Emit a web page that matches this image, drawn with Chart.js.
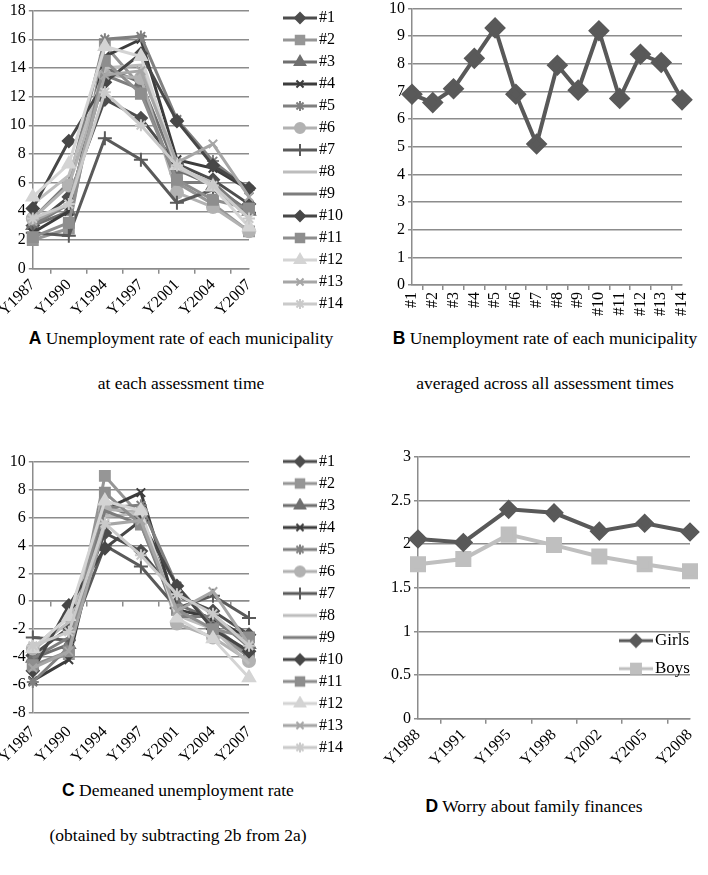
<!DOCTYPE html>
<html>
<head>
<meta charset="utf-8">
<script src="https://cdn.jsdelivr.net/npm/chart.js@4.4.0/dist/chart.umd.min.js"></script>
<style>
body{margin:0;background:#fff;width:708px;height:875px;position:relative;overflow:hidden;font-family:"Liberation Serif","Times New Roman",serif;}
.box{position:absolute;}
.cap{position:absolute;font-size:17.5px;text-align:center;white-space:nowrap;color:#000;}
.cap b{font-family:"Liberation Sans",Arial,sans-serif;}
</style>
</head>
<body>
<div class="box" style="left:0;top:-2px;width:353px;height:324px"><canvas id="chartA"></canvas></div>
<div class="box" style="left:360px;top:-4px;width:348px;height:323px"><canvas id="chartB"></canvas></div>
<div class="box" style="left:0;top:440px;width:353px;height:329px"><canvas id="chartC"></canvas></div>
<div class="box" style="left:360px;top:440px;width:348px;height:332px"><canvas id="chartD"></canvas></div>

<div class="cap" style="left:0;width:362px;top:328px"><b>A</b> Unemployment rate of each municipality</div>
<div class="cap" style="left:0;width:362px;top:373px">at each assessment time</div>
<div class="cap" style="left:382px;width:326px;top:328px"><b>B</b> Unemployment rate of each municipality</div>
<div class="cap" style="left:382px;width:326px;top:373px">averaged across all assessment times</div>
<div class="cap" style="left:0;width:356px;top:780px"><b>C</b> Demeaned unemployment rate</div>
<div class="cap" style="left:0;width:356px;top:825px">(obtained by subtracting 2b from 2a)</div>
<div class="cap" style="left:360px;width:348px;top:796px"><b>D</b> Worry about family finances</div>

<script>
// assessment times and municipalities
const years = ['Y1987', 'Y1990', 'Y1994', 'Y1997', 'Y2001', 'Y2004', 'Y2007'];
const municipalities = ['#1','#2','#3','#4','#5','#6','#7','#8','#9','#10','#11','#12','#13','#14'];

// 2a: unemployment rate per municipality
const m1  = [3.0, 5.0, 11.8, 10.5, 7.3, 6.2, 4.5];
const m2  = [2.0, 2.8, 15.6, 12.7, 6.0, 4.5, 2.6];
const m3  = [3.0, 4.0, 14.0, 13.0, 6.9, 5.8, 4.0];
const m4  = [2.5, 4.0, 14.8, 16.0, 7.6, 7.0, 5.5];
const m5  = [3.5, 6.0, 16.0, 16.2, 10.4, 7.5, 5.5];
const m6  = [3.5, 5.8, 13.5, 13.3, 5.3, 4.3, 2.6];
const m7  = [2.5, 2.3, 9.1, 7.6, 4.6, 5.5, 3.9];
const m8  = [4.5, 6.5, 14.0, 14.2, 7.0, 6.0, 3.5];
const m9  = [3.0, 4.5, 13.5, 12.5, 6.0, 6.0, 3.8];
const m10 = [4.2, 8.9, 13.0, 15.0, 10.3, 7.2, 5.6];
const m11 = [2.2, 3.2, 14.5, 12.2, 6.2, 4.8, 4.2];
const m12 = [5.0, 7.3, 15.5, 14.8, 7.2, 5.7, 2.9];
const m13 = [3.3, 4.5, 13.5, 13.8, 7.4, 8.7, 5.0];
const m14 = [3.5, 4.5, 12.3, 10.0, 7.2, 5.8, 3.5];

// 2b: average over all assessment times
const meanRate = [6.9, 6.6, 7.1, 8.2, 9.3, 6.9, 5.1, 7.95, 7.05, 9.2, 6.75, 8.35, 8.05, 6.7];

// 2c: demeaned rate
const d1  = [-3.9, -1.9, 4.9, 3.6, 0.4, -0.7, -2.4];
const d2  = [-4.6, -3.8, 9.0, 6.1, -0.6, -2.1, -4.0];
const d3  = [-4.1, -3.1, 6.9, 5.9, -0.2, -1.3, -3.1];
const d4  = [-5.7, -4.2, 6.6, 7.8, -0.6, -1.2, -2.7];
const d5  = [-5.8, -3.3, 6.7, 6.9, 1.1, -1.8, -3.8];
const d6  = [-3.4, -1.1, 6.6, 6.4, -1.6, -2.6, -4.3];
const d7  = [-2.6, -2.8, 4.0, 2.5, -0.5, 0.4, -1.2];
const d8  = [-3.5, -1.5, 6.1, 6.3, -1.0, -2.0, -4.5];
const d9  = [-4.1, -2.6, 6.5, 5.5, -1.1, -1.1, -3.3];
const d10 = [-5.0, -0.3, 3.8, 5.8, 1.1, -2.0, -3.6];
const d11 = [-4.6, -3.6, 7.8, 5.5, -0.6, -2.0, -2.6];
const d12 = [-3.4, -1.1, 7.2, 6.5, -1.2, -2.7, -5.5];
const d13 = [-4.8, -3.6, 5.5, 5.8, -0.7, 0.7, -3.1];
const d14 = [-3.2, -2.2, 5.6, 3.3, 0.5, -0.9, -3.2];

// 2d: worry about family finances
const worryYears = ['Y1988', 'Y1991', 'Y1995', 'Y1998', 'Y2002', 'Y2005', 'Y2008'];
const girls = [2.06, 2.02, 2.40, 2.36, 2.15, 2.24, 2.14];
const boys  = [1.77, 1.83, 2.11, 1.99, 1.86, 1.77, 1.69];

const rates = [m1, m2, m3, m4, m5, m6, m7, m8, m9, m10, m11, m12, m13, m14];
const demeaned = [d1, d2, d3, d4, d5, d6, d7, d8, d9, d10, d11, d12, d13, d14];

// excel-like grey styles
const colors = ['#4d4d4d','#969696','#6f6f6f','#3c3c3c','#808080','#b2b2b2','#5a5a5a',
                '#bdbdbd','#7d7d7d','#474747','#8e8e8e','#d4d4d4','#a6a6a6','#cacaca'];
const markers = ['rectRot','rect','triangle','crossRot','star','circle','cross',
                 false,false,'rectRot','rect','triangle','crossRot','star'];

const serif = 'Liberation Serif';
const gridGrey = '#8c8c8c';
Chart.defaults.font.family = serif;
Chart.defaults.font.size = 16;
Chart.defaults.color = '#000';
Chart.defaults.animation = false;
Chart.defaults.plugins.tooltip.enabled = false;

function markerSize(style) {
  if (style === 'rect') return 7;
  if (style === 'triangle' || style === 'cross') return 7;
  return 6;
}

// small line + marker picture used as legend symbol
function legendIcon(color, style, r) {
  const c = document.createElement('canvas');
  c.width = 36; c.height = 16;
  const g = c.getContext('2d');
  g.strokeStyle = color; g.fillStyle = color;
  g.lineWidth = 3;
  g.beginPath(); g.moveTo(1, 8); g.lineTo(35, 8); g.stroke();
  if (style) {
    g.lineWidth = 2;
    Chart.helpers.drawPoint(g, {pointStyle: style, radius: r || markerSize(style), borderWidth: 2}, 18, 8);
  }
  return c;
}
const icons = colors.map((c, i) => legendIcon(c, markers[i], markers[i] ? markerSize(markers[i]) - 1 : 0));

function seriesSets(list) {
  return list.map((vals, i) => ({
    label: municipalities[i],
    data: vals,
    xAxisID: 'x',
    borderColor: colors[i],
    backgroundColor: colors[i],
    borderWidth: 3,
    pointStyle: markers[i] || 'circle',
    pointRadius: markers[i] ? markerSize(markers[i]) : 0,
    pointBorderWidth: 2,
    order: list.length - i
  }));
}

const legendRight = {
  position: 'right',
  maxWidth: 120,
  labels: {
    usePointStyle: true,
    pointStyleWidth: 22,
    padding: 6,
    color: '#000',
    font: {family: serif, size: 16},
    generateLabels: (chart) => chart.data.datasets.map((ds, i) => ({
      text: ds.label, pointStyle: icons[i], fillStyle: 'rgba(0,0,0,0)',
      strokeStyle: 'rgba(0,0,0,0)', lineWidth: 0, hidden: false, datasetIndex: i, fontColor: '#000'
    }))
  }
};

// empty axes that only hold space
function spacer(pos, size) {
  const s = {
    position: pos,
    ticks: {display: false}, grid: {display: false}, border: {display: false}
  };
  if (pos === 'top') {
    s.type = 'category'; s.labels = [''];
    s.afterFit = (a) => { a.height = size; };
  } else {
    s.min = 0; s.max = 1;
    s.afterFit = (a) => { a.width = size; };
  }
  return s;
}

function yAxis(min, max, step) {
  return {
    min: min, max: max,
    ticks: {stepSize: step, color: '#000', font: {family: serif, size: 16}, padding: 3,
            callback: (v) => String(v)},
    grid: {color: gridGrey, lineWidth: 1.5, tickLength: 4},
    border: {color: gridGrey, width: 1.5}
  };
}

function xAxis(rot) {
  return {
    ticks: {color: '#000', font: {family: serif, size: 16}, maxRotation: rot, minRotation: rot,
            padding: 2, autoSkip: false},
    grid: {drawOnChartArea: false, offset: true, color: gridGrey, lineWidth: 1.5, tickLength: 5},
    border: {color: gridGrey, width: 1.5}
  };
}

// A
new Chart(document.getElementById('chartA'), {
  type: 'line',
  data: {labels: years, datasets: seriesSets(rates)},
  options: {
    responsive: true, maintainAspectRatio: false,
    layout: {padding: {left: 6, top: 2, right: 0, bottom: 0}},
    plugins: {legend: legendRight},
    scales: {x: xAxis(45), y: yAxis(0, 18, 2), gap: spacer('right', 34)}
  }
});

// B
const xB = xAxis(90);
xB.afterFit = (a) => { a.height = 34; };
new Chart(document.getElementById('chartB'), {
  type: 'line',
  data: {
    labels: municipalities,
    datasets: [{
      label: 'mean', data: meanRate,
      borderColor: '#595959', backgroundColor: '#595959', borderWidth: 4,
      pointStyle: 'rectRot', pointRadius: 8
    }]
  },
  options: {
    responsive: true, maintainAspectRatio: false,
    layout: {padding: {left: 26, top: 0, right: 26, bottom: 0}},
    plugins: {legend: {display: false}},
    scales: {x: xB, y: yAxis(0, 10, 1)}
  }
});

// C, with a zero line carrying the category tick marks
const xC = xAxis(45);
xC.grid = {display: false};
xC.border = {display: false};
new Chart(document.getElementById('chartC'), {
  type: 'line',
  data: {labels: years, datasets: seriesSets(demeaned)},
  options: {
    responsive: true, maintainAspectRatio: false,
    layout: {padding: {left: 6, top: 0, right: 0, bottom: 0}},
    plugins: {legend: legendRight},
    scales: {
      x: xC,
      zero: {
        type: 'category', labels: years, position: {y: 0}, axis: 'x',
        ticks: {display: false},
        grid: {drawOnChartArea: false, offset: true, color: gridGrey, lineWidth: 1.5, tickLength: 5},
        border: {color: gridGrey, width: 1.5}
      },
      y: yAxis(-8, 10, 2),
      gap: spacer('right', 34),
      top: spacer('top', 22)
    }
  }
});

// D, legend drawn inside the plot area
const innerLegend = {
  id: 'innerLegend',
  afterDraw(chart) {
    const ctx = chart.ctx, a = chart.chartArea;
    ctx.save();
    ctx.font = '17px ' + serif;
    ctx.fillStyle = '#000';
    ctx.textBaseline = 'middle';
    chart.data.datasets.forEach((ds, i) => {
      const y = a.bottom - 78 + i * 28;
      ctx.drawImage(ds.icon, a.right - 72, y - 8);
      ctx.fillText(ds.label, a.right - 35, y);
    });
    ctx.restore();
  }
};
new Chart(document.getElementById('chartD'), {
  type: 'line',
  data: {
    labels: worryYears,
    datasets: [
      {label: 'Girls', data: girls, borderColor: '#595959', backgroundColor: '#595959', borderWidth: 4,
       pointStyle: 'rectRot', pointRadius: 7, icon: legendIcon('#595959', 'rectRot', 6)},
      {label: 'Boys', data: boys, borderColor: '#bfbfbf', backgroundColor: '#bfbfbf', borderWidth: 4,
       pointStyle: 'rect', pointRadius: 8.5, icon: legendIcon('#bfbfbf', 'rect', 7)}
    ]
  },
  options: {
    responsive: true, maintainAspectRatio: false,
    layout: {padding: {left: 28, top: 17, right: 18, bottom: 0}},
    plugins: {legend: {display: false}},
    scales: {x: xAxis(45), y: yAxis(0, 3, 0.5)}
  },
  plugins: [innerLegend]
});
</script>
</body>
</html>
